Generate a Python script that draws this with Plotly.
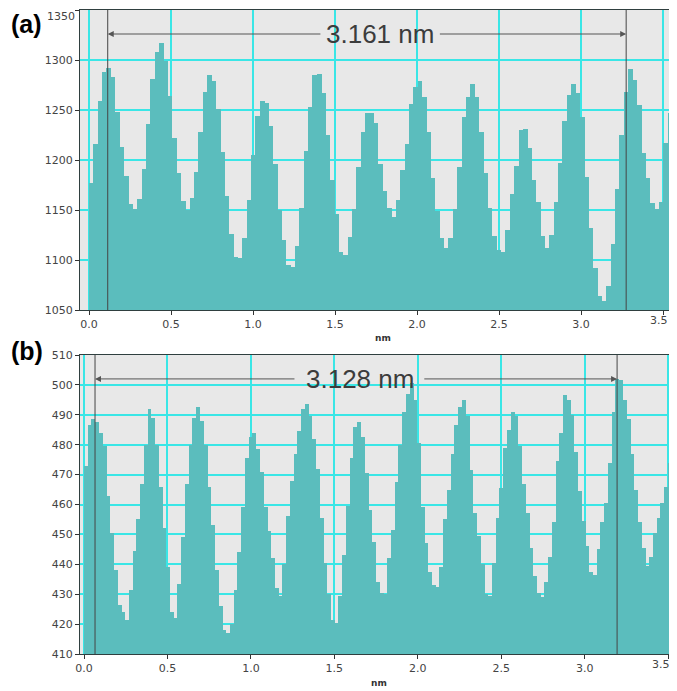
import plotly.graph_objects as go

# ---------------- data ----------------
# panel (a): line-profile heights, one value per pixel step
a_vals = [1177, 1216, 1259, 1288, 1292, 1283, 1248, 1213, 1184, 1156,
          1151, 1161, 1191, 1236, 1281, 1308, 1317, 1299, 1264, 1222,
          1187, 1159, 1150, 1162, 1188, 1228, 1268, 1285, 1279, 1251,
          1208, 1164, 1126, 1103, 1102, 1122, 1160, 1205, 1244, 1259,
          1257, 1234, 1196, 1150, 1120, 1095, 1093, 1114, 1152, 1209,
          1253, 1285, 1286, 1267, 1225, 1180, 1146,
          1108, 1105, 1123, 1151, 1193, 1228, 1247, 1247, 1237, 1196,
          1169, 1152, 1143, 1160, 1190, 1216, 1256, 1273, 1279, 1263,
          1228, 1182, 1149, 1122, 1112, 1122, 1151, 1193, 1243, 1263,
          1276, 1263, 1228, 1187, 1152, 1124, 1110, 1108, 1130, 1166,
          1194, 1230, 1231, 1212, 1180, 1158, 1124, 1112, 1125, 1158,
          1197, 1239, 1265, 1276, 1267, 1243, 1183, 1132, 1092, 1064,
          1059, 1074, 1116, 1171, 1225, 1268, 1291, 1280, 1255, 1207,
          1182, 1157, 1151, 1158, 1217, 1247]
a_length_nm = 3.555

# panel (b)
b_vals = [473, 486.5, 488.5, 487.5, 484, 479.5, 463, 450.5, 438, 426.5, 424, 421.5,
          431.5, 444.5, 455, 467, 480, 492,
          489, 480, 466, 452, 439, 424, 422,
          433.5, 449, 467, 480, 489, 492.5,
          488, 480, 466, 453, 438, 426, 418, 417,
          420, 431.5, 444, 459, 475.5, 482.5, 484,
          478.5, 471, 459, 451, 442, 432, 429.5,
          440, 456, 468, 477, 484.5, 492, 493.5,
          489.5, 482, 472, 455.5, 440.5, 430, 421.5, 420.5,
          429.5, 443, 459.5, 475.5, 486, 487.7,
          482.5, 470.5, 458, 447.5, 434, 430.5, 430,
          442, 451.5, 467.5, 480, 491, 497, 500.5,
          495, 480.5, 459, 447, 437.5, 433, 432.5,
          439, 455, 465, 477, 486.5, 492.5, 495,
          489.5, 471.5, 457, 449.5, 440, 430, 429.5,
          440.5, 455.5, 465.5, 479, 485, 491,
          489.5, 479.5, 467, 457, 445.5, 436, 430.5, 429,
          434, 442.5, 454, 474.5, 484, 496.5,
          495, 490, 477.5, 464.5, 454.5, 446, 437.5, 436.5,
          445, 454, 460.5, 474, 491, 502,
          501.5, 495, 488.5, 477, 465, 454, 445.5, 439.5,
          442.5, 450.5, 455.5, 460.5, 466, 474]
b_length_nm = 3.521

# measurement cursors (nm) and the distance labels
a_cursors = [0.114, 3.275]
b_cursors = [0.066, 3.194]
a_label = "3.161 nm"
b_label = "3.128 nm"

x_ticks = [0.0, 0.5, 1.0, 1.5, 2.0, 2.5, 3.0, 3.5]
x_tick_text = ["0.0", "0.5", "1.0", "1.5", "2.0", "2.5", "3.0", "3.5"]
a_y_ticks = [1050, 1100, 1150, 1200, 1250, 1300, 1350]
b_y_ticks = [410, 420, 430, 440, 450, 460, 470, 480, 490, 500, 510]

# ---------------- styling ----------------
# the page body has an 8px margin, so the figure starts at (8, 8) in the window
OFF = 8
W, H = 677 - OFF, 691 - OFF
TEAL = "#5bbdbd"
GRID = "#3ae6e6"
BG = "#e8e8e8"
TXT = "#444444"
TICK_FONT = dict(family="DejaVu Sans", size=11, color=TXT)


def px_x(p):
    return (p - OFF) / W


def px_y(p):
    return 1 - (p - OFF) / H


fig = go.Figure()

wa = a_length_nm / len(a_vals)
xa = [(i + 0.5) * wa for i in range(len(a_vals))]
wb = b_length_nm / len(b_vals)
xb = [(i + 0.5) * wb for i in range(len(b_vals))]

A_BASE = 1000
B_BASE = 400
fig.add_trace(go.Bar(x=xa, y=[v - A_BASE for v in a_vals], base=A_BASE, width=wa * 1.06,
                     marker=dict(color=TEAL, line=dict(width=0)),
                     xaxis="x", yaxis="y", showlegend=False, hoverinfo="skip"))
fig.add_trace(go.Bar(x=xb, y=[v - B_BASE for v in b_vals], base=B_BASE, width=wb * 1.06,
                     marker=dict(color=TEAL, line=dict(width=0)),
                     xaxis="x2", yaxis="y2", showlegend=False, hoverinfo="skip"))

axis_common = dict(showgrid=True, gridcolor=GRID, gridwidth=1.5, zeroline=False,
                   showline=True, linecolor="#2f3f3f", linewidth=1.2,
                   ticks="outside", ticklen=4, tickcolor="#333333", tickwidth=1,
                   tickfont=TICK_FONT, ticklabeloverflow="allow",
                   automargin=False, fixedrange=True)

# labels at the window edges (x = 3.5, y = 1350) are drawn as annotations,
# nudged inward so they stay whole
x_tick_text_axis = x_tick_text[:-1] + [""]
a_y_text_axis = [str(v) for v in a_y_ticks[:-1]] + [""]

fig.update_layout(
    width=W, height=H,
    margin=dict(l=0, r=0, t=0, b=0),
    paper_bgcolor="white", plot_bgcolor=BG,
    bargap=0, barmode="overlay",
    xaxis=dict(domain=[px_x(80), 1.0], range=[-0.055, 3.585],
               tickvals=x_ticks, ticktext=x_tick_text_axis, mirror=True,
               anchor="y", **axis_common),
    yaxis=dict(domain=[px_y(310), px_y(10)], range=[1050, 1350],
               tickvals=a_y_ticks, ticktext=a_y_text_axis, anchor="x", **axis_common),
    xaxis2=dict(domain=[px_x(80), 1.0], range=[-0.024, 3.553],
                tickvals=x_ticks, ticktext=x_tick_text_axis, mirror=True,
                anchor="y2", **axis_common),
    yaxis2=dict(domain=[px_y(654), px_y(355)], range=[410, 510],
                tickvals=b_y_ticks, anchor="x2", **axis_common),
)

shapes = []
annotations = []


def add_measure(xref, yref, cursors, label, y_arrow, text_center, text_left, text_right):
    for c in cursors:
        shapes.append(dict(type="line", xref=xref, yref=yref + " domain",
                           x0=c, x1=c, y0=0, y1=1,
                           line=dict(color="#454545", width=1)))
    annotations.append(dict(xref=xref, yref=yref, axref=xref, ayref=yref,
                            x=cursors[0], y=y_arrow, ax=text_left, ay=y_arrow,
                            text="", showarrow=True, arrowhead=2, arrowsize=1.2,
                            arrowwidth=1, arrowcolor="#555555"))
    annotations.append(dict(xref=xref, yref=yref, axref=xref, ayref=yref,
                            x=cursors[1], y=y_arrow, ax=text_right, ay=y_arrow,
                            text="", showarrow=True, arrowhead=2, arrowsize=1.2,
                            arrowwidth=1, arrowcolor="#555555"))
    annotations.append(dict(xref=xref, yref=yref, x=text_center, y=y_arrow,
                            text=label, showarrow=False,
                            font=dict(family="Liberation Sans, Arial", size=26,
                                      color="#3c3c3c"),
                            xanchor="center", yanchor="middle"))


add_measure("x", "y", a_cursors, a_label, 1326, 1.775, 1.42, 2.13)
add_measure("x2", "y2", b_cursors, b_label, 502, 1.653, 1.27, 2.03)

# last x tick labels (3.5)
annotations.append(dict(xref="x", yref="paper", x=x_ticks[-1], y=px_y(312),
                        text=x_tick_text[-1], showarrow=False, xanchor="center",
                        yanchor="top", xshift=-4, font=TICK_FONT))
annotations.append(dict(xref="x2", yref="paper", x=x_ticks[-1], y=px_y(656),
                        text=x_tick_text[-1], showarrow=False, xanchor="center",
                        yanchor="top", xshift=-7, font=TICK_FONT))
# top y tick label of panel (a)
annotations.append(dict(xref="paper", yref="paper", x=px_x(77), y=px_y(8),
                        text=str(a_y_ticks[-1]), showarrow=False, xanchor="right",
                        yanchor="top", font=TICK_FONT))

# panel letters
annotations.append(dict(xref="paper", yref="paper", x=px_x(9), y=px_y(24),
                        text="<b>(a)</b>", showarrow=False, xanchor="left",
                        yanchor="middle",
                        font=dict(family="Liberation Sans, Arial", size=25, color="black")))
annotations.append(dict(xref="paper", yref="paper", x=px_x(9), y=px_y(351),
                        text="<b>(b)</b>", showarrow=False, xanchor="left",
                        yanchor="middle",
                        font=dict(family="Liberation Sans, Arial", size=25, color="black")))
# axis titles
annotations.append(dict(xref="paper", yref="paper", x=px_x(383), y=px_y(338),
                        text="<b>nm</b>", showarrow=False, xanchor="center",
                        yanchor="middle",
                        font=dict(family="DejaVu Sans", size=9, color="#333333")))
annotations.append(dict(xref="paper", yref="paper", x=px_x(379), y=px_y(683),
                        text="<b>nm</b>", showarrow=False, xanchor="center",
                        yanchor="middle",
                        font=dict(family="DejaVu Sans", size=9, color="#333333")))

fig.update_layout(shapes=shapes, annotations=annotations)

fig.write_html("out.html")
